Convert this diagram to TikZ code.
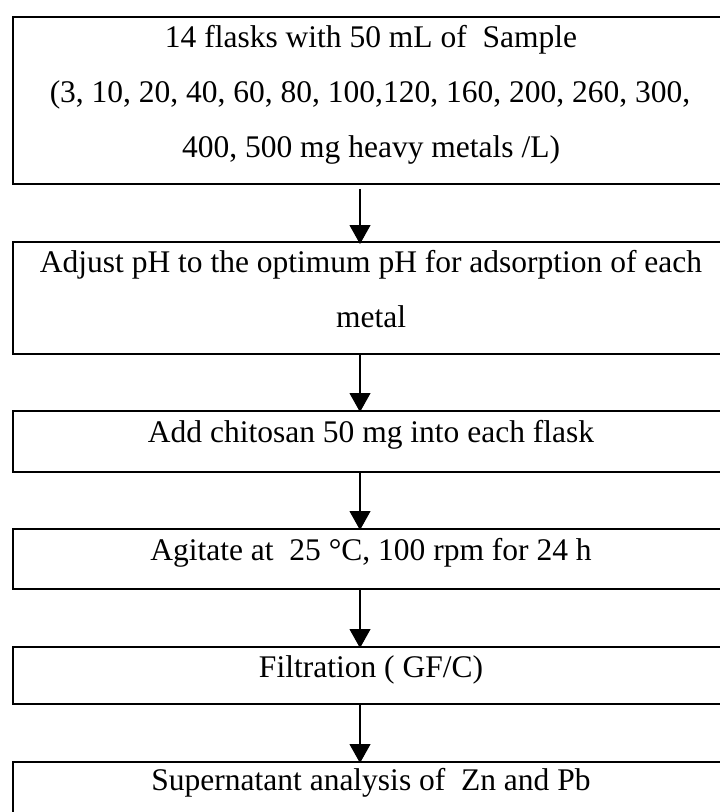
\documentclass[tikz,border=0pt]{standalone}
\usepackage{fontspec}
\setmainfont{Liberation Serif}
\usetikzlibrary{arrows.meta}
\begin{document}
\begin{tikzpicture}[x=1pt,y=-1pt,
  box/.style={draw=black,line width=1.8pt,rectangle,inner sep=0pt,minimum width=718pt,anchor=north west},
  txt/.style={anchor=base,inner sep=0pt,font=\fontsize{31.5}{55}\selectfont},
  arr/.style={draw=black,line width=1.1pt,-{Triangle[length=19pt,width=21pt]}}]
\useasboundingbox (0,0) rectangle (720,812);
\clip (0,0) rectangle (720,812);
\fill[white] (0,0) rectangle (720,812);
% boxes
\node[box,minimum height=167pt] (b1) at (12,16) {};
\node[box,minimum height=112pt] (b2) at (12,241) {};
\node[box,minimum height=61pt] (b3) at (12,410) {};
\node[box,minimum height=60pt] (b4) at (12,528) {};
\node[box,minimum height=57pt] (b5) at (12,646) {};
\node[box,minimum height=61pt] (b6) at (12,761) {};
% texts
\node[txt] (t1a) at (371,47) {14 flasks with 50 mL of~~Sample};
\node[txt] (t1b) at (370,102) {(3, 10, 20, 40, 60, 80, 100,120, 160, 200, 260, 300,};
\node[txt] (t1c) at (371,157) {400, 500 mg heavy metals /L)};
\node[txt] (t2a) at (371,272) {Adjust pH to the optimum pH for adsorption of each};
\node[txt] (t2b) at (371,327) {metal};
\node[txt] (t3) at (371,442) {Add chitosan 50 mg into each flask};
\node[txt] (t4) at (371,560) {Agitate at~~25 °C, 100 rpm for 24 h};
\node[txt] (t5) at (371,677) {Filtration ( GF/C)};
\node[txt] (t6) at (371,790) {Supernatant analysis of~~Zn and Pb};
% arrows
\coordinate (ax) at (360,0);
\draw[arr] ([yshift=-4pt]b1.south -| ax) -- ([yshift=-3pt]b2.north -| ax);
\draw[arr] (b2.south -| ax) -- ([yshift=-2pt]b3.north -| ax);
\draw[arr] (b3.south -| ax) -- ([yshift=-2pt]b4.north -| ax);
\draw[arr] (b4.south -| ax) -- ([yshift=-2pt]b5.north -| ax);
\draw[arr] (b5.south -| ax) -- ([yshift=-2pt]b6.north -| ax);
\end{tikzpicture}
\end{document}
